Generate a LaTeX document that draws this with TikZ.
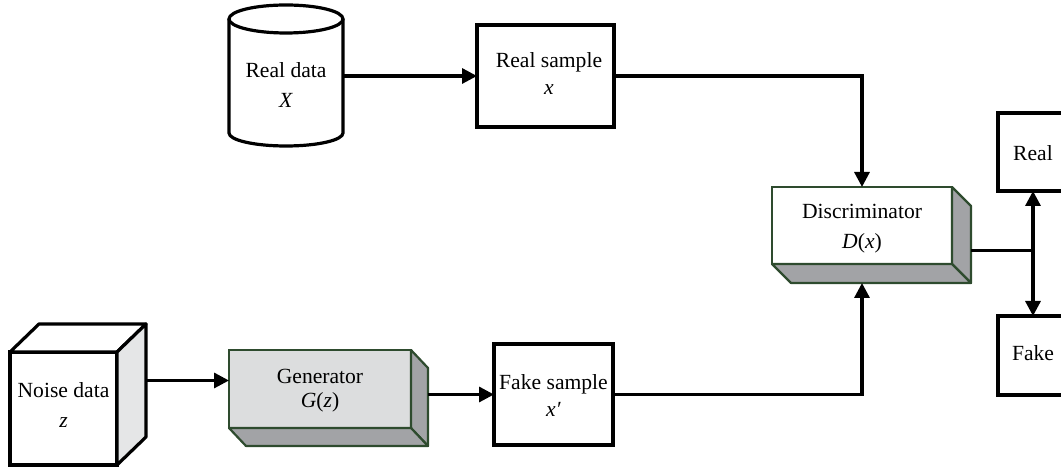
\documentclass[tikz,border=0pt]{standalone}
\usepackage{fontspec}
\setmainfont{Liberation Serif}
\usetikzlibrary{arrows.meta}
\definecolor{gborder}{HTML}{2E4B2E}
\definecolor{genfront}{HTML}{DCDDDE}
\definecolor{darkside}{HTML}{A2A3A6}
\definecolor{lightside}{HTML}{E5E6E7}
\begin{document}
\begin{tikzpicture}[x=0.5pt,y=-0.5pt,
  line width=1.6pt, line join=miter,
  every node/.style={inner sep=0pt, outer sep=0pt},
  txt/.style={font=\fontsize{10.8}{13.5}\selectfont, align=center},
  plainbox/.style={draw, line width=1.6pt, fill=white},
  cubeface/.style={draw, line width=1.6pt, line join=round},
  facebox/.style={draw=gborder, line width=1.1pt},
  sideface/.style={draw=gborder, line width=1.1pt, fill=darkside, line join=round},
  arr/.style={-{Triangle[length=7.5pt,width=7.5pt]}, line width=1.6pt},
  link/.style={line width=1.6pt},
]
\useasboundingbox (0,0) rectangle (1061,469);

% ---- Real data (cylinder)
\node (realdata) at (286,76) [minimum width=57pt, minimum height=57pt] {};
\draw[fill=white] (realdata.north west) -- (realdata.south west)
  arc (180:360:28.5pt and 6.5pt) -- (realdata.north east);
\draw[fill=white] (realdata.north) ellipse (28.5pt and 7pt);
\node[txt] at (286,85) {Real data\\[1.5pt]\textit{X}};

% ---- Real sample
\node[plainbox, minimum width=68.5pt, minimum height=51pt] (rs) at (545.5,76) {};
\node[txt] at (549,74) {Real sample\\\textit{x}};

% ---- Noise data (cube)
\node[plainbox, minimum width=53.5pt, minimum height=56.5pt] (noise) at (63.5,408.5) {};
\draw[cubeface, fill=white] (noise.north west) -- ([shift={(29,-28)}]noise.north west)
  -- ([shift={(29,-28)}]noise.north east) -- (noise.north east) -- cycle;
\draw[cubeface, fill=lightside] (noise.north east) -- ([shift={(29,-28)}]noise.north east)
  -- ([shift={(29,-28)}]noise.south east) -- (noise.south east) -- cycle;
\node[txt] at (63.5,405) {Noise data\\[1.5pt]\textit{z}};

% ---- Generator
\node[facebox, fill=genfront, minimum width=91pt, minimum height=39pt] (gen) at (320,389) {};
\draw[sideface] (gen.north east) -- ([shift={(17,18)}]gen.north east)
  -- ([shift={(17,18)}]gen.south east) -- (gen.south east) -- cycle;
\draw[sideface] (gen.south west) -- (gen.south east)
  -- ([shift={(17,18)}]gen.south east) -- ([shift={(17,18)}]gen.south west) -- cycle;
\node[txt] at (320,391) {Generator\\[-1.5pt]\textit{G}(\textit{z})};

% ---- Fake sample
\node[plainbox, minimum width=59.5pt, minimum height=50.5pt] (fs) at (553.5,394.5) {};
\node[txt] at (553.5,396) {Fake sample\\\textit{x′}};

% ---- Discriminator
\node[facebox, fill=white, minimum width=90pt, minimum height=38.5pt] (disc) at (862,225.5) {};
\draw[sideface] (disc.north east) -- ([shift={(19,19)}]disc.north east)
  -- ([shift={(19,19)}]disc.south east) -- (disc.south east) -- cycle;
\draw[sideface] (disc.south west) -- (disc.south east)
  -- ([shift={(19,19)}]disc.south east) -- ([shift={(19,19)}]disc.south west) -- cycle;
\node[txt] at (862,229) {Discriminator\\[1.5pt]\textit{D}(\textit{x})};

% ---- Real / Fake outputs
\node[plainbox, minimum width=35pt, minimum height=39pt] (real) at (1033,152) {};
\node[txt] at (1033,153) {Real};
\node[plainbox, minimum width=35pt, minimum height=39.5pt] (fake) at (1033,355.5) {};
\node[txt] at (1033,353) {Fake};

% ---- Connectors
\draw[arr] (realdata.east) -- (realdata.east -| rs.west);
\draw[arr] (rs.east |- realdata.east) -| (disc.north);
\draw[arr] ([shift={(29,-28)}]noise.east) coordinate (ns) -- (ns -| gen.west);
\coordinate (gbr) at ([shift={(17,18)}]gen.east);
\draw[arr] (gbr |- fs.west) -- (fs.west);
\coordinate (dbot) at ([shift={(0,19)}]disc.south);
\draw[arr] (fs.east) -| (dbot);
\coordinate (dout) at ([shift={(19,25)}]disc.east);
\draw[link] (dout) -- (dout -| real.south) coordinate (split);
\draw[arr] (split) -- (real.south);
\draw[arr] (split) -- (fake.north);
\end{tikzpicture}
\end{document}
